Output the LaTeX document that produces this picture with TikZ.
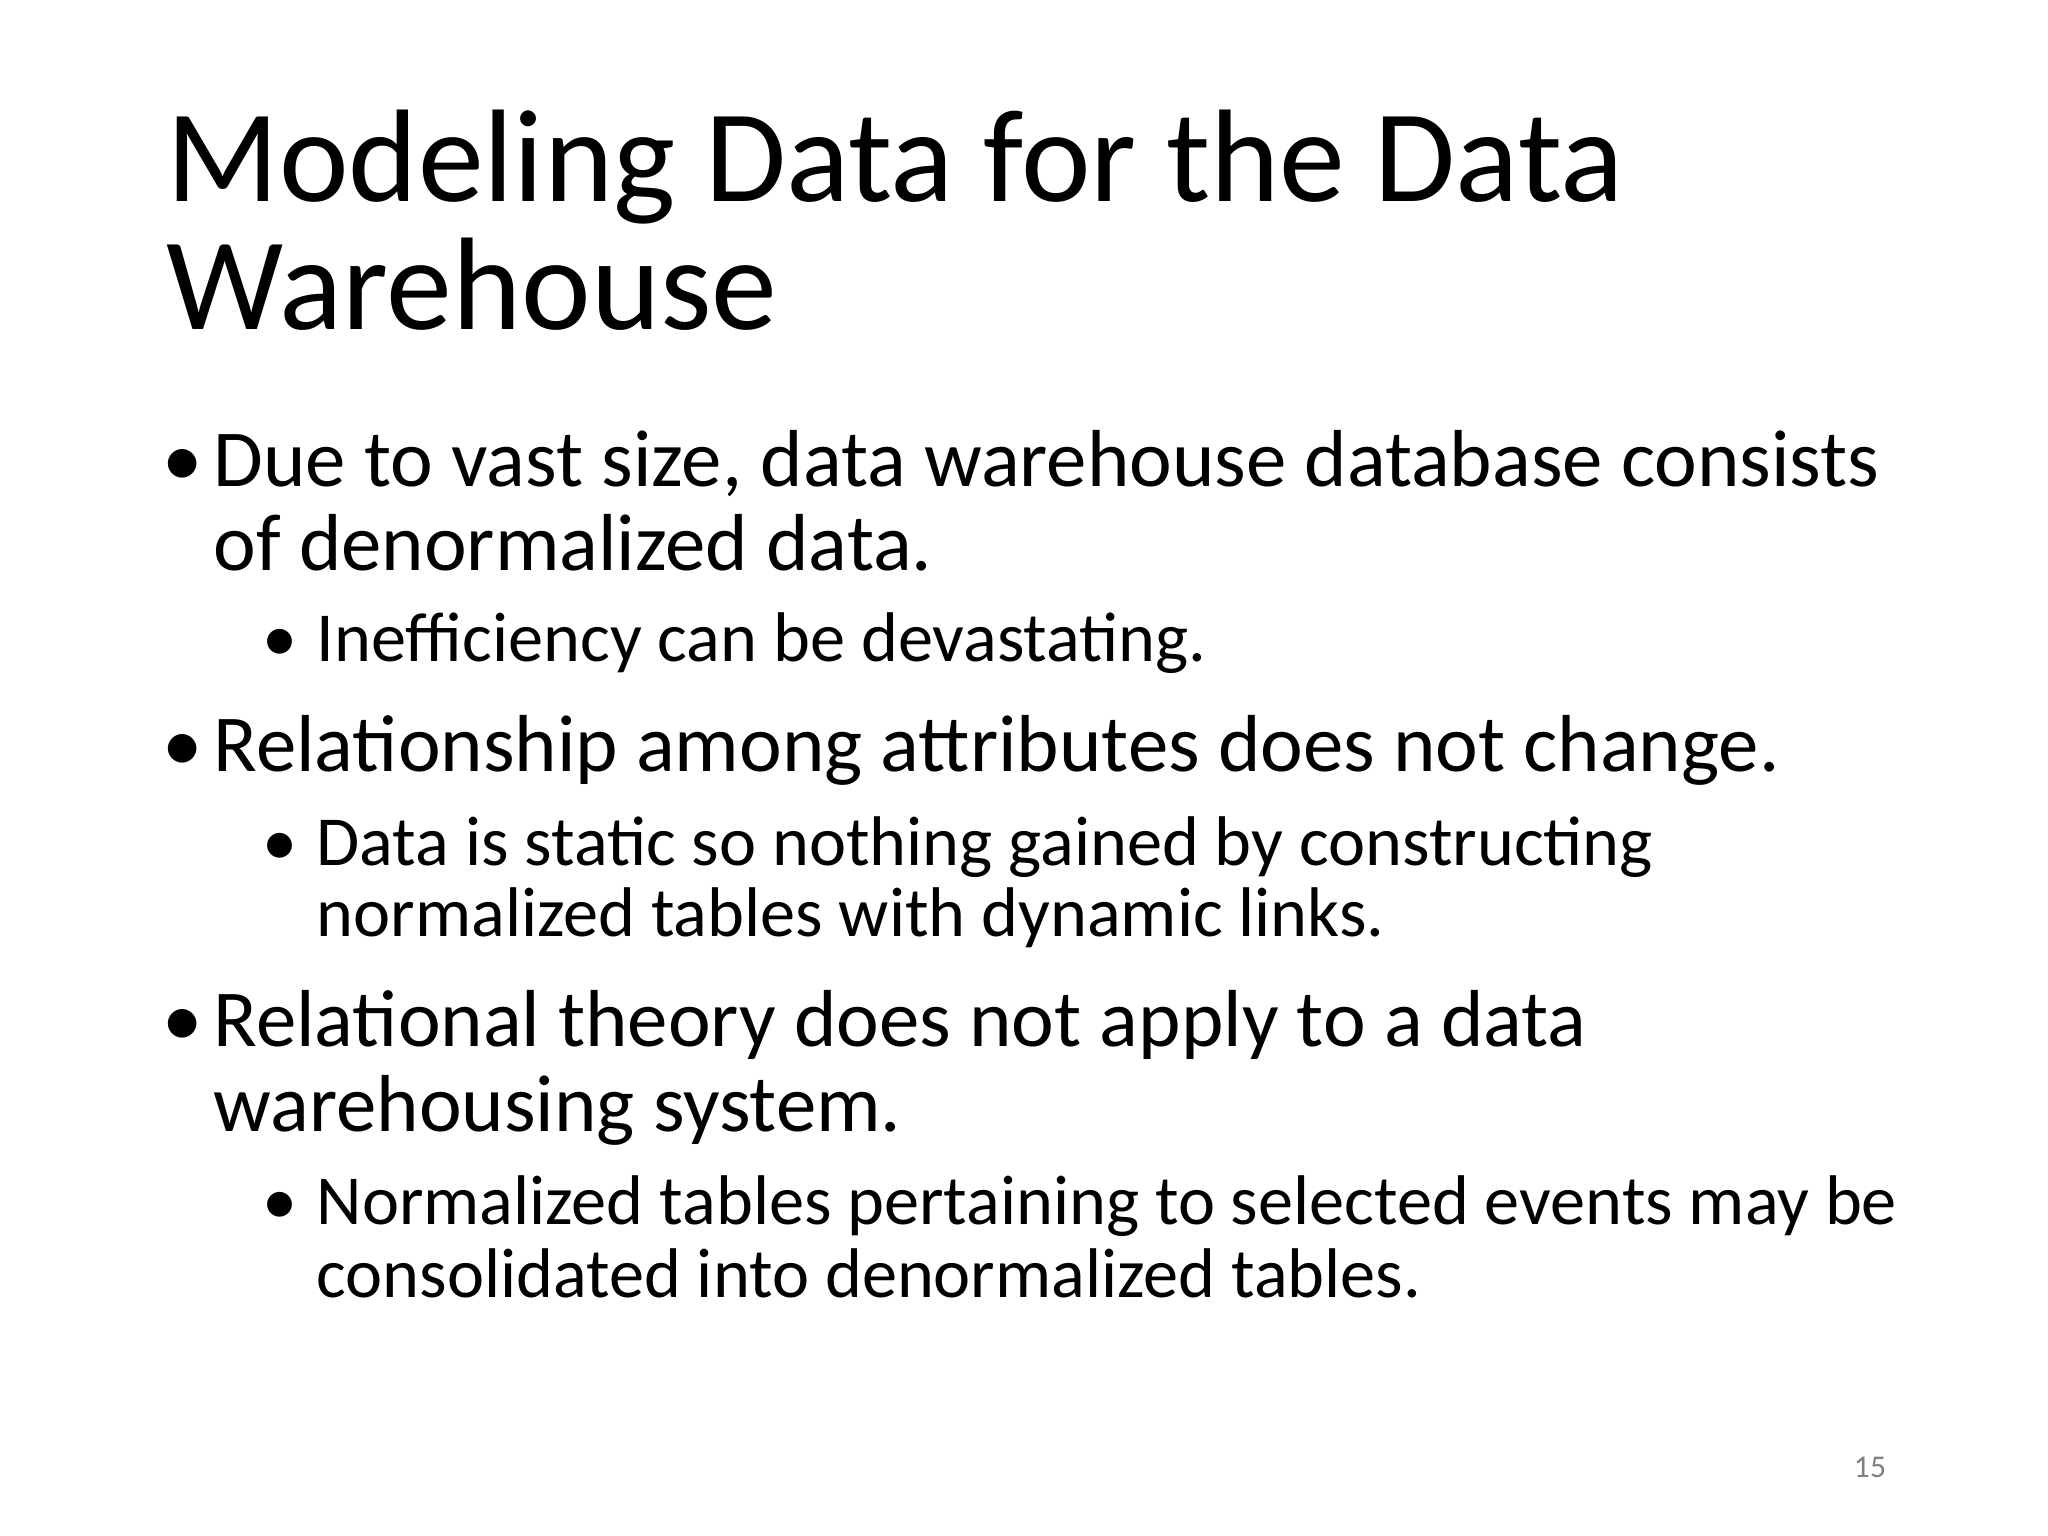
\documentclass[tikz,border=0pt]{standalone}
\usepackage{fontspec}
\setmainfont{Carlito}
\begin{document}
\begin{tikzpicture}[x=1cm,y=1cm,
  txt/.style={anchor=base west,inner sep=0pt,text=black},
  ttl/.style={txt,font=\fontsize{37.5}{45}\selectfont},
  lone/.style={txt,font=\fontsize{23}{28}\selectfont},
  ltwo/.style={txt,font=\fontsize{20}{24}\selectfont}]
\useasboundingbox[fill=white] (0,0) rectangle (20.48,-15.36);
\node[ttl] (t1) at (1.66,-2.02) {Modeling Data for the Data};
\node[ttl] (t2) at (1.66,-3.30) {Warehouse};
\node[lone] (b1) at (1.62,-4.86) {•};
\node[lone] (a1) at (2.13,-4.86) {Due to vast size, data warehouse database consists};
\node[lone] (a2) at (2.13,-5.71) {of denormalized data.};
\node[ltwo] (b2) at (2.62,-6.62) {•};
\node[ltwo] (c1) at (3.16,-6.62) {Inefficiency can be devastating.};
\node[lone] (b3) at (1.62,-7.72) {•};
\node[lone] (d1) at (2.13,-7.72) {Relationship among attributes does not change.};
\node[ltwo] (b4) at (2.62,-8.65) {•};
\node[ltwo] (e1) at (3.16,-8.65) {Data is static so nothing gained by constructing};
\node[ltwo] (e2) at (3.16,-9.36) {normalized tables with dynamic links.};
\node[lone] (b5) at (1.62,-10.46) {•};
\node[lone] (f1) at (2.13,-10.46) {Relational theory does not apply to a data};
\node[lone] (f2) at (2.13,-11.31) {warehousing system.};
\node[ltwo] (b6) at (2.62,-12.24) {•};
\node[ltwo] (g1) at (3.16,-12.24) {Normalized tables pertaining to selected events may be};
\node[ltwo] (g2) at (3.16,-12.97) {consolidated into denormalized tables.};
\node[anchor=base,inner sep=0pt,text=gray,font=\fontsize{9}{11}\selectfont] (pn) at (18.70,-14.77) {15};
\end{tikzpicture}
\end{document}
